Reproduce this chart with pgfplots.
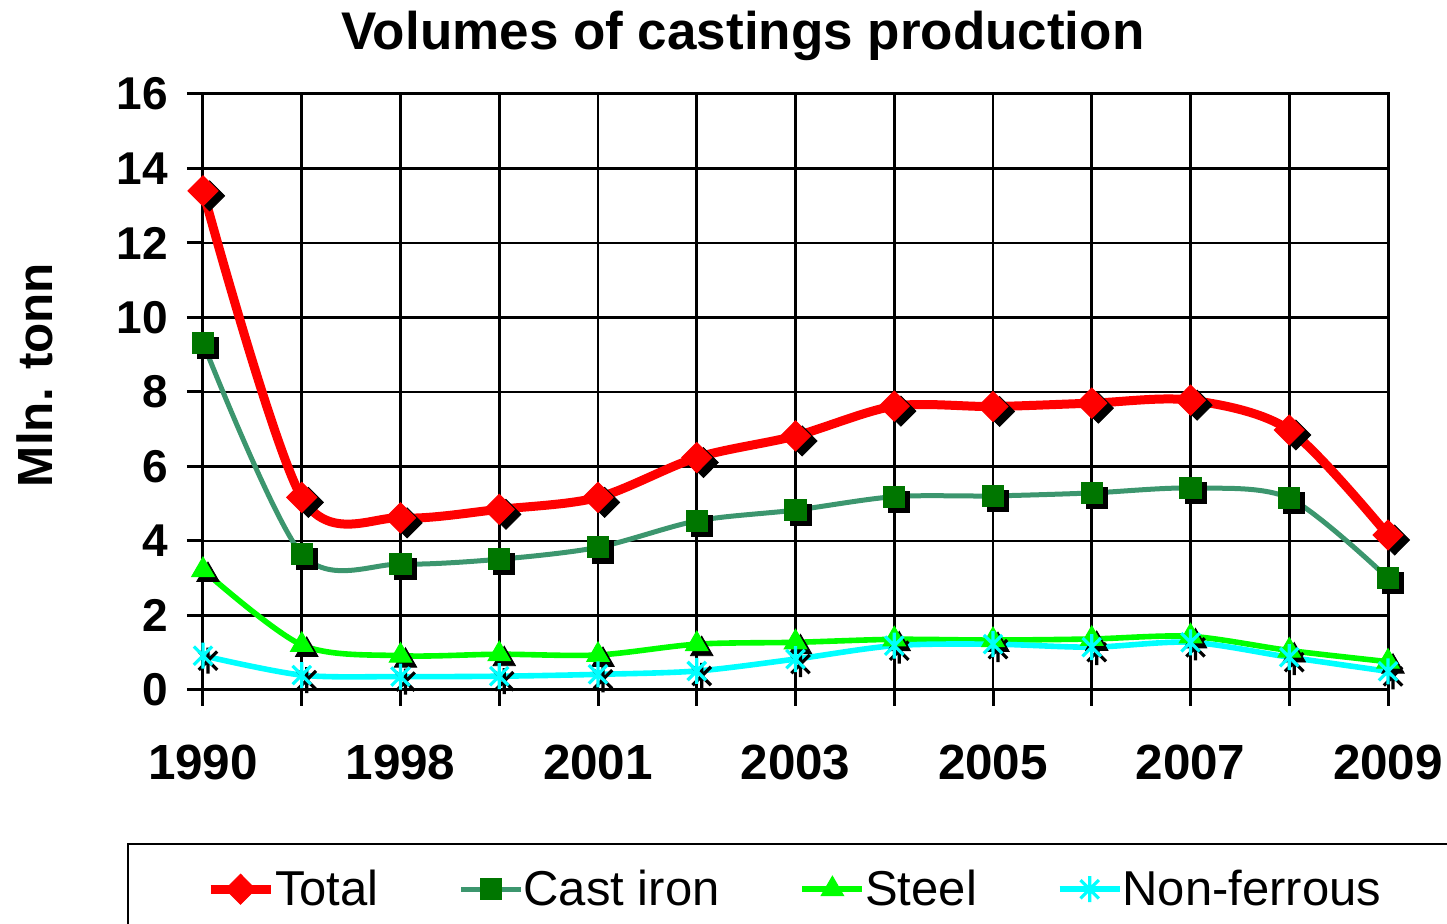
\documentclass[border=0pt]{standalone}
\usepackage{pgfplots}
\usepackage{pgfplotstable}
\pgfplotsset{compat=1.18}
\usepackage{fontspec}
\setmainfont{Liberation Sans}

\pgfdeclareplotmark{xstar}{%
  \pgfpathmoveto{\pgfqpoint{0pt}{\pgfplotmarksize}}%
  \pgfpathlineto{\pgfqpoint{0pt}{-\pgfplotmarksize}}%
  \pgfpathmoveto{\pgfqpoint{.7071\pgfplotmarksize}{.7071\pgfplotmarksize}}%
  \pgfpathlineto{\pgfqpoint{-.7071\pgfplotmarksize}{-.7071\pgfplotmarksize}}%
  \pgfpathmoveto{\pgfqpoint{-.7071\pgfplotmarksize}{.7071\pgfplotmarksize}}%
  \pgfpathlineto{\pgfqpoint{.7071\pgfplotmarksize}{-.7071\pgfplotmarksize}}%
  \pgfusepathqstroke}

\definecolor{totred}{RGB}{255,0,0}
\definecolor{castline}{RGB}{60,150,110}
\definecolor{castmark}{RGB}{0,118,0}
\definecolor{steelgreen}{RGB}{0,255,0}
\definecolor{nfcyan}{RGB}{0,255,255}

\pgfplotstableread{
x total cast steel nonf
0  13.40 9.32 3.22 0.92
1  5.17  3.65 1.21 0.40
2  4.62  3.38 0.92 0.36
3  4.85  3.51 0.96 0.37
4  5.17  3.83 0.94 0.42
5  6.24  4.54 1.23 0.51
6  6.82  4.83 1.28 0.83
7  7.62  5.19 1.36 1.19
8  7.61  5.21 1.34 1.23
9  7.70  5.29 1.37 1.15
10 7.78  5.42 1.44 1.28
11 6.98  5.15 1.06 0.88
12 4.16  3.00 0.76 0.50
}\datatable

\begin{document}
\begin{tikzpicture}
\begin{axis}[
  scale only axis, width=592.5pt, height=298pt,
  xmin=0, xmax=12, ymin=0, ymax=16,
  xtick={0,...,12},
  xticklabels={1990,,1998,,2001,,2003,,2005,,2007,,2009},
  ytick={0,2,...,16},
  grid=major,
  major grid style={black, line width=1.3pt},
  axis line style={black, line width=1.5pt},
  tick align=outside, tick pos=left, major tick length=8pt,
  tick style={black, line width=1.5pt},
  clip=false,
  /pgf/number format/assume math mode=true,
  yticklabel style={font=\fontsize{23}{27}\selectfont\bfseries, xshift=-6pt},
  xticklabel style={font=\fontsize{24.7}{29}\selectfont\bfseries, yshift=-16pt},
  title={Volumes of castings production},
  title style={font=\fontsize{26.5}{31}\selectfont\bfseries, at={(axis description cs:0.4557,1)}, anchor=base, yshift=16pt},
  ylabel={Mln. tonn},
  ylabel style={font=\fontsize{24.7}{29}\selectfont\bfseries, at={(axis description cs:-0.1418,0.5285)}, anchor=center},
  legend columns=4,
  legend style={at={(axis description cs:-0.0641,-0.2567)}, anchor=north west,
    draw=black, line width=1pt, font=\fontsize{24.5}{29}\selectfont,
    inner xsep=39pt, inner ysep=12pt,
    /tikz/every even column/.append style={column sep=40pt},
    nodes={inner ysep=1pt, inner xsep=0pt}},
  legend image code/.code={\draw[mark repeat=2,mark phase=2,#1] plot coordinates {(0pt,0pt)(15pt,0pt)(30pt,0pt)};},
]
% marker shadows
\addplot[forget plot, only marks, black, mark=diamond*, mark size=7.5pt,
  mark options={xscale=1.33, fill=black, draw=black, xshift=2.5pt, yshift=-2.5pt}]
  table[x=x, y=total]{\datatable};
\addplot[forget plot, only marks, black, mark=square*, mark size=5.3pt,
  mark options={fill=black, draw=black, xshift=2.5pt, yshift=-2.5pt}]
  table[x=x, y=cast]{\datatable};
\addplot[forget plot, only marks, black, mark=triangle*, mark size=6.5pt,
  mark options={fill=black, draw=black, xshift=2.5pt, yshift=-2.5pt}]
  table[x=x, y=steel]{\datatable};
\addplot[forget plot, only marks, black, mark=xstar, mark size=6.5pt,
  mark options={draw=black, line width=1.6pt, xshift=2.5pt, yshift=-2.5pt}]
  table[x=x, y=nonf]{\datatable};

\addplot[color=totred, line width=4.5pt, smooth, tension=0.5,
  mark=diamond*, mark size=7.5pt,
  mark options={xscale=1.33, fill=totred, draw=totred, line width=0.5pt}]
  table[x=x, y=total]{\datatable};
\addlegendentry{Total}
\addplot[color=castline, line width=2.5pt, smooth, tension=0.5,
  mark=square*, mark size=5.3pt,
  mark options={fill=castmark, draw=castmark, line width=0.5pt}]
  table[x=x, y=cast]{\datatable};
\addlegendentry{Cast iron}
\addplot[color=steelgreen, line width=2.8pt, smooth, tension=0.5,
  mark=triangle*, mark size=6.5pt,
  mark options={fill=steelgreen, draw=steelgreen, line width=0.5pt}]
  table[x=x, y=steel]{\datatable};
\addlegendentry{Steel}
\addplot[color=nfcyan, line width=2.8pt, smooth, tension=0.5,
  mark=xstar, mark size=6.5pt,
  mark options={draw=nfcyan, line width=1.6pt}]
  table[x=x, y=nonf]{\datatable};
\addlegendentry{Non-ferrous}
\end{axis}
\pgfresetboundingbox
\useasboundingbox (-101.5pt,-117pt) rectangle (622pt,345pt);
\end{tikzpicture}
\end{document}
